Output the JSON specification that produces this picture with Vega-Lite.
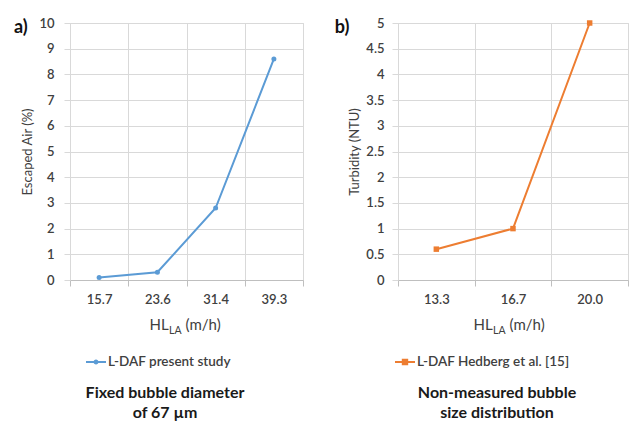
{
  "$schema": "https://vega.github.io/schema/vega-lite/v6.json",
  "background": "white",
  "padding": {"left": 13, "top": 16, "right": 0, "bottom": 0},
  "config": {
    "font": "Lato",
    "view": {"stroke": "#d9d9d9", "strokeWidth": 1},
    "concat": {"spacing": 30},
    "axis": {
      "labelFont": "Lato",
      "labelFontSize": 13,
      "labelFontWeight": 600,
      "labelColor": "#404040",
      "titleFont": "Lato",
      "titleColor": "#404040",
      "titleFontWeight": "normal",
      "gridColor": "#d9d9d9",
      "gridWidth": 1
    },
    "legend": {
      "labelFont": "Lato",
      "labelFontSize": 13.5,
      "labelFontWeight": 600,
      "labelColor": "#404040",
      "titleFont": "Lato",
      "titleFontSize": 16,
      "titleFontWeight": "bold",
      "titleColor": "#1a1a1a",
      "titleLineHeight": 20,
      "titleOrient": "bottom",
      "titleAnchor": "middle",
      "titleAlign": "center",
      "titlePadding": 16,
      "symbolSize": 400,
      "symbolStrokeWidth": 2,
      "labelOffset": 1
    },
    "title": {"font": "Lato", "fontSize": 18, "fontWeight": "bold", "color": "#111111", "anchor": "start", "frame": "bounds", "baseline": "middle", "offset": 0}
  },
  "resolve": {"scale": {"color": "independent"}, "legend": {"color": "independent"}},
  "hconcat": [
    {
      "width": 233,
      "height": 257,
      "title": {"text": "a)", "dx": -8, "dy": 24},
      "data": {
        "values": [
          {"hl": "15.7", "air": 0.1},
          {"hl": "23.6", "air": 0.3},
          {"hl": "31.4", "air": 2.8},
          {"hl": "39.3", "air": 8.6}
        ]
      },
      "encoding": {
        "y": {
          "field": "air", "type": "quantitative",
          "scale": {"domain": [0, 10]},
          "axis": {
            "title": "Escaped Air (%)", "values": [0, 1, 2, 3, 4, 5, 6, 7, 8, 9, 10],
            "domain": false, "tickColor": "#d9d9d9", "tickSize": 6, "labelPadding": 10,
            "titleFontSize": 13, "titlePadding": 4
          }
        }
      },
      "layer": [
        {
          "mark": {"type": "line", "strokeWidth": 2},
          "encoding": {
            "x": {
              "field": "hl", "type": "nominal", "sort": null,
              "scale": {"type": "band", "paddingInner": 0, "paddingOuter": 0},
              "axis": {
                "title": "HL\u2002\u2002\u2009(m/h)", "labelAngle": 0, "tickBand": "extent", "grid": true,
                "domainColor": "#bfbfbf", "tickColor": "#bfbfbf", "tickSize": 6, "labelPadding": 7,
                "titleFontSize": 15, "titleX": 79, "titleY": 49, "titleAlign": "left", "titleBaseline": "alphabetic"
              }
            },
            "color": {
              "datum": "L-DAF present study", "type": "nominal",
              "scale": {"range": ["#5B9BD5"]},
              "legend": {
                "orient": "none", "legendX": 15, "legendY": 328,
                "title": ["Fixed bubble diameter", "of 67 µm"],
                "symbolType": "M-1,0H1M-0.15,0A0.15,0.15 0 1,0 0.15,0A0.15,0.15 0 1,0 -0.15,0",
                "symbolFillColor": "#5B9BD5", "symbolStrokeColor": "#5B9BD5",
                "encode": {
                  "symbols": {"update": {"fill": {"value": "#5B9BD5"}, "stroke": {"value": "#5B9BD5"}}},
                  "title": {"update": {"dx": {"value": 7}}}
                }
              }
            }
          }
        },
        {
          "mark": {"type": "point", "shape": "circle", "filled": true, "size": 25, "color": "#5B9BD5", "opacity": 1},
          "encoding": {
            "x": {
              "field": "hl", "type": "nominal", "sort": null,
              "axis": {
                "orient": "bottom", "title": "LA", "labels": false, "ticks": false, "domain": false, "grid": false,
                "titleFontSize": 10.5, "titleX": 98.5, "titleY": 53, "titleAlign": "left", "titleBaseline": "alphabetic"
              }
            }
          }
        }
      ],
      "resolve": {"axis": {"x": "independent"}}
    },
    {
      "width": 230,
      "height": 257,
      "title": {"text": "b)", "dx": -14, "dy": 24},
      "data": {
        "values": [
          {"hl": "13.3", "ntu": 0.6},
          {"hl": "16.7", "ntu": 1.0},
          {"hl": "20.0", "ntu": 5.0}
        ]
      },
      "encoding": {
        "y": {
          "field": "ntu", "type": "quantitative",
          "scale": {"domain": [0, 5]},
          "axis": {
            "title": "Turbidity (NTU)", "values": [0, 0.5, 1, 1.5, 2, 2.5, 3, 3.5, 4, 4.5, 5], "format": ".1~f",
            "domain": false, "tickColor": "#d9d9d9", "tickSize": 6, "labelPadding": 8,
            "titleFontSize": 13, "titlePadding": 4
          }
        }
      },
      "layer": [
        {
          "mark": {"type": "line", "strokeWidth": 2},
          "encoding": {
            "x": {
              "field": "hl", "type": "nominal", "sort": null,
              "scale": {"type": "band", "paddingInner": 0, "paddingOuter": 0},
              "axis": {
                "title": "HL\u2002\u2002\u2009(m/h)", "labelAngle": 0, "tickBand": "extent", "grid": true,
                "domainColor": "#bfbfbf", "tickColor": "#bfbfbf", "tickSize": 6, "labelPadding": 7,
                "titleFontSize": 15, "titleX": 75, "titleY": 49, "titleAlign": "left", "titleBaseline": "alphabetic"
              }
            },
            "color": {
              "datum": "L-DAF Hedberg et al. [15]", "type": "nominal",
              "scale": {"range": ["#ED7D31"]},
              "legend": {
                "orient": "none", "legendX": -4, "legendY": 328,
                "title": ["Non-measured bubble", "size distribution"],
                "symbolType": "M-1,0H1M-0.22,-0.22H0.22V0.22H-0.22Z",
                "symbolFillColor": "#ED7D31", "symbolStrokeColor": "#ED7D31",
                "encode": {
                  "symbols": {"update": {"fill": {"value": "#ED7D31"}, "stroke": {"value": "#ED7D31"}}},
                  "title": {"update": {"dx": {"value": 15}}}
                }
              }
            }
          }
        },
        {
          "mark": {"type": "point", "shape": "square", "filled": true, "size": 30, "color": "#ED7D31", "opacity": 1},
          "encoding": {
            "x": {
              "field": "hl", "type": "nominal", "sort": null,
              "axis": {
                "orient": "bottom", "title": "LA", "labels": false, "ticks": false, "domain": false, "grid": false,
                "titleFontSize": 10.5, "titleX": 94.5, "titleY": 53, "titleAlign": "left", "titleBaseline": "alphabetic"
              }
            }
          }
        }
      ],
      "resolve": {"axis": {"x": "independent"}}
    }
  ]
}
